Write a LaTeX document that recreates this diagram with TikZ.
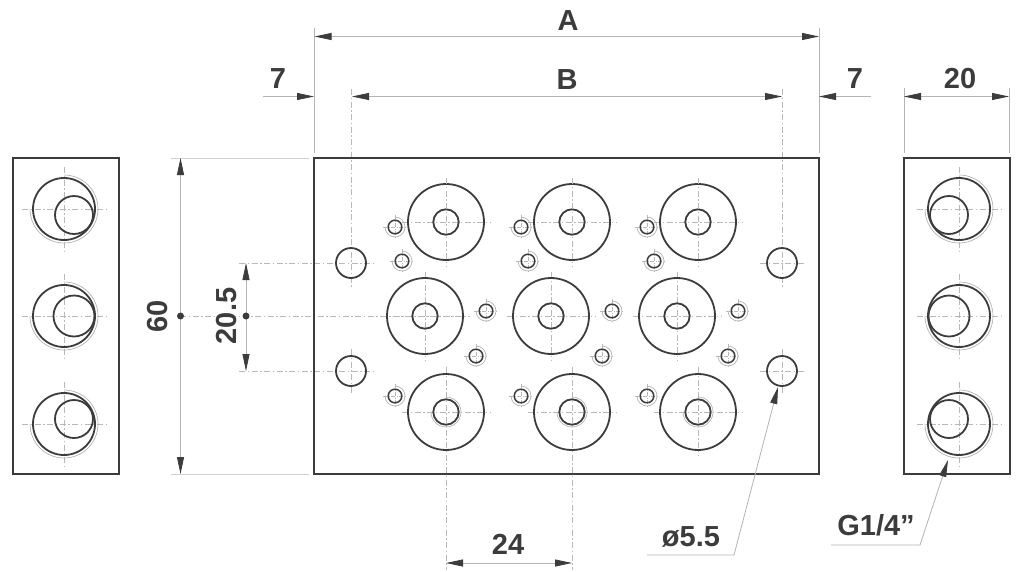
\documentclass[tikz,border=0pt]{standalone}
\usepackage{fontspec}
\setmainfont{Liberation Sans}
\usetikzlibrary{arrows.meta}
\definecolor{ink}{HTML}{3C3C3C}
\definecolor{dimc}{HTML}{B4B4B4}
\definecolor{cen}{HTML}{B8B8B8}
\tikzset{
  body/.style={draw=ink,line width=2pt},
  hole/.style={draw=ink,line width=1.8pt},
  thin arc/.style={draw=dimc,line width=0.7pt},
  centre/.style={draw=cen,line width=0.8pt,dash pattern=on 6pt off 2.5pt on 1.5pt off 2.5pt},
  dimline/.style={draw=dimc,line width=0.8pt},
  arrowed/.style={dimline,{Triangle[length=17pt,width=7pt,fill=ink,color=ink]}-{Triangle[length=17pt,width=7pt,fill=ink,color=ink]}},
  arrowend/.style={dimline,-{Triangle[length=17pt,width=7pt,fill=ink,color=ink]}},
  label/.style={font=\fontsize{29}{29}\selectfont\bfseries,text=ink,inner sep=0pt},
  dot/.style={circle,fill=ink,inner sep=0pt,minimum size=7pt},
}
\begin{document}
\begin{tikzpicture}[x=1pt,y=-1pt]
\useasboundingbox (0,0) rectangle (1018,571);
\fill[white] (0,0) rectangle (1018,571);
% centre lines of the main plate
\draw[centre] (180,316) -- (469,316);
\draw[centre] (239,263) -- (373,263);
\draw[centre] (239,371) -- (373,371);
\draw[centre] (351,89) -- (351,287);
\draw[centre] (351,349) -- (351,393);
\draw[centre] (760,263) -- (804,263);
\draw[centre] (760,371) -- (804,371);
\draw[centre] (782,89) -- (782,287);
\draw[centre] (782,349) -- (782,393);
\draw[centre] (446,367) -- (446,570);
\draw[centre] (572,367) -- (572,570);
\draw[centre] (698,367) -- (698,456);
% plates
\draw[body] (13,158) rectangle (119,474);
\draw[body] (314,158) rectangle (819,474);
\draw[body] (904,158) rectangle (1010,474);
% port groups
\foreach \dx in {0,126,252}{
  \foreach \y in {222,412}{
    \draw[centre] (402+\dx,\y) -- (490+\dx,\y);
    \draw[hole] (446+\dx,\y) circle[radius=38];
    \draw[hole] (446+\dx,\y) circle[radius=12.7];
  }
  \draw[centre] (446+\dx,178) -- (446+\dx,266);
  \draw[centre] (425+\dx,272) -- (425+\dx,360);
  \draw[centre] (381+\dx,316) -- (469+\dx,316);
  \draw[hole] (425+\dx,316) circle[radius=38];
  \draw[hole] (425+\dx,316) circle[radius=12.7];
  \draw[thin arc] (446+\dx,397) arc[start angle=-90,end angle=180,radius=15];
  \foreach \sx/\sy in {395/227,402/261,486/311,476/356,395/396}{
    \draw[centre,dash pattern=on 4pt off 1.5pt on 1pt off 1.5pt] (\sx+\dx-12,\sy) -- (\sx+\dx+12,\sy);
    \draw[centre,dash pattern=on 4pt off 1.5pt on 1pt off 1.5pt] (\sx+\dx,\sy-12) -- (\sx+\dx,\sy+12);
    \draw[hole,line width=1.5pt] (\sx+\dx,\sy) circle[radius=6.8];
    \draw[thin arc] (\sx+\dx,\sy-10) arc[start angle=-90,end angle=180,radius=10];
  }
}
% mounting holes
\foreach \cx/\cy in {351/263,351/371,782/263,782/371}{
  \draw[hole] (\cx,\cy) circle[radius=15];
}
% side views
\foreach \cx/\ix in {64/74,959/949}{
  \foreach \cy/\iy/\ir in {209/215/19,316/316/20.5,424/419/19}{
    \draw[centre] (\cx-42,\cy) -- (\cx+42,\cy);
    \draw[centre] (\cx,\cy-42) -- (\cx,\cy+42);
    \draw[hole] (\cx,\cy) circle[radius=31];
    \draw[hole] (\ix,\iy) circle[radius=\ir];
    \draw[thin arc] (\cx,\cy-34) arc[start angle=-90,end angle=180,radius=34];
  }
}
% extension lines
\draw[dimline] (314.5,28) -- (314.5,153);
\draw[dimline] (819,28) -- (819,153);
\draw[dimline] (904,88) -- (904,153);
\draw[dimline] (1009,88) -- (1009,153);
\draw[dimline,draw=dimc!60] (171,158) -- (309,158);
\draw[dimline,draw=dimc!60] (171,474) -- (309,474);
% named ends of the dimensions
\coordinate (aL) at (314.5,36.5); \coordinate (aR) at (819,36.5);
\coordinate (bL) at (352,96.5);   \coordinate (bR) at (782,96.5);
\coordinate (lF) at (263,96.5);   \coordinate (lT) at (314,96.5);
\coordinate (rF) at (871,96.5);   \coordinate (rT) at (819,96.5);
\coordinate (wL) at (904,96.5);   \coordinate (wR) at (1009,96.5);
\coordinate (hT) at (180.5,158);  \coordinate (hB) at (180.5,474);
\coordinate (sT) at (246,263);    \coordinate (sB) at (246,371);
\coordinate (pL) at (446,563);    \coordinate (pR) at (572,563);
\draw[arrowed] (aL) -- (aR);
\draw[arrowed] (bL) -- (bR);
\draw[arrowend] (lF) -- (lT);
\draw[arrowend] (rF) -- (rT);
\draw[arrowed] (wL) -- (wR);
\draw[arrowed] (hT) -- (hB);
\draw[arrowed] (sT) -- (sB);
\draw[arrowed] (pL) -- (pR);
\node[dot] (d1) at (180.5,316) {};
\node[dot] (d2) at (246,316) {};
% leaders
\coordinate (o1) at (647,555); \coordinate (o2) at (734,555); \coordinate (o3) at (778,387);
\coordinate (g1) at (831,545); \coordinate (g2) at (920,545); \coordinate (g3) at (948,460);
\draw[arrowend] (o1) -- (o2) -- (o3);
\draw[arrowend] (g1) -- (g2) -- (g3);
% labels
\node[label] (tA) at (568,21) {A};
\node[label] (tB) at (567,80) {B};
\node[label] (t7l) at (278,79) {7};
\node[label] (t7r) at (855,79) {7};
\node[label] (t20) at (960,79) {20};
\node[label,rotate=90] (t60) at (158,316) {60};
\node[label,rotate=90] (t205) at (227,316) {20.5};
\node[label] (t24) at (508,544) {24};
\node[label] (tphi) at (691,537) {ø5.5};
\node[label] (tg) at (876,525) {G1/4”};
\end{tikzpicture}
\end{document}
